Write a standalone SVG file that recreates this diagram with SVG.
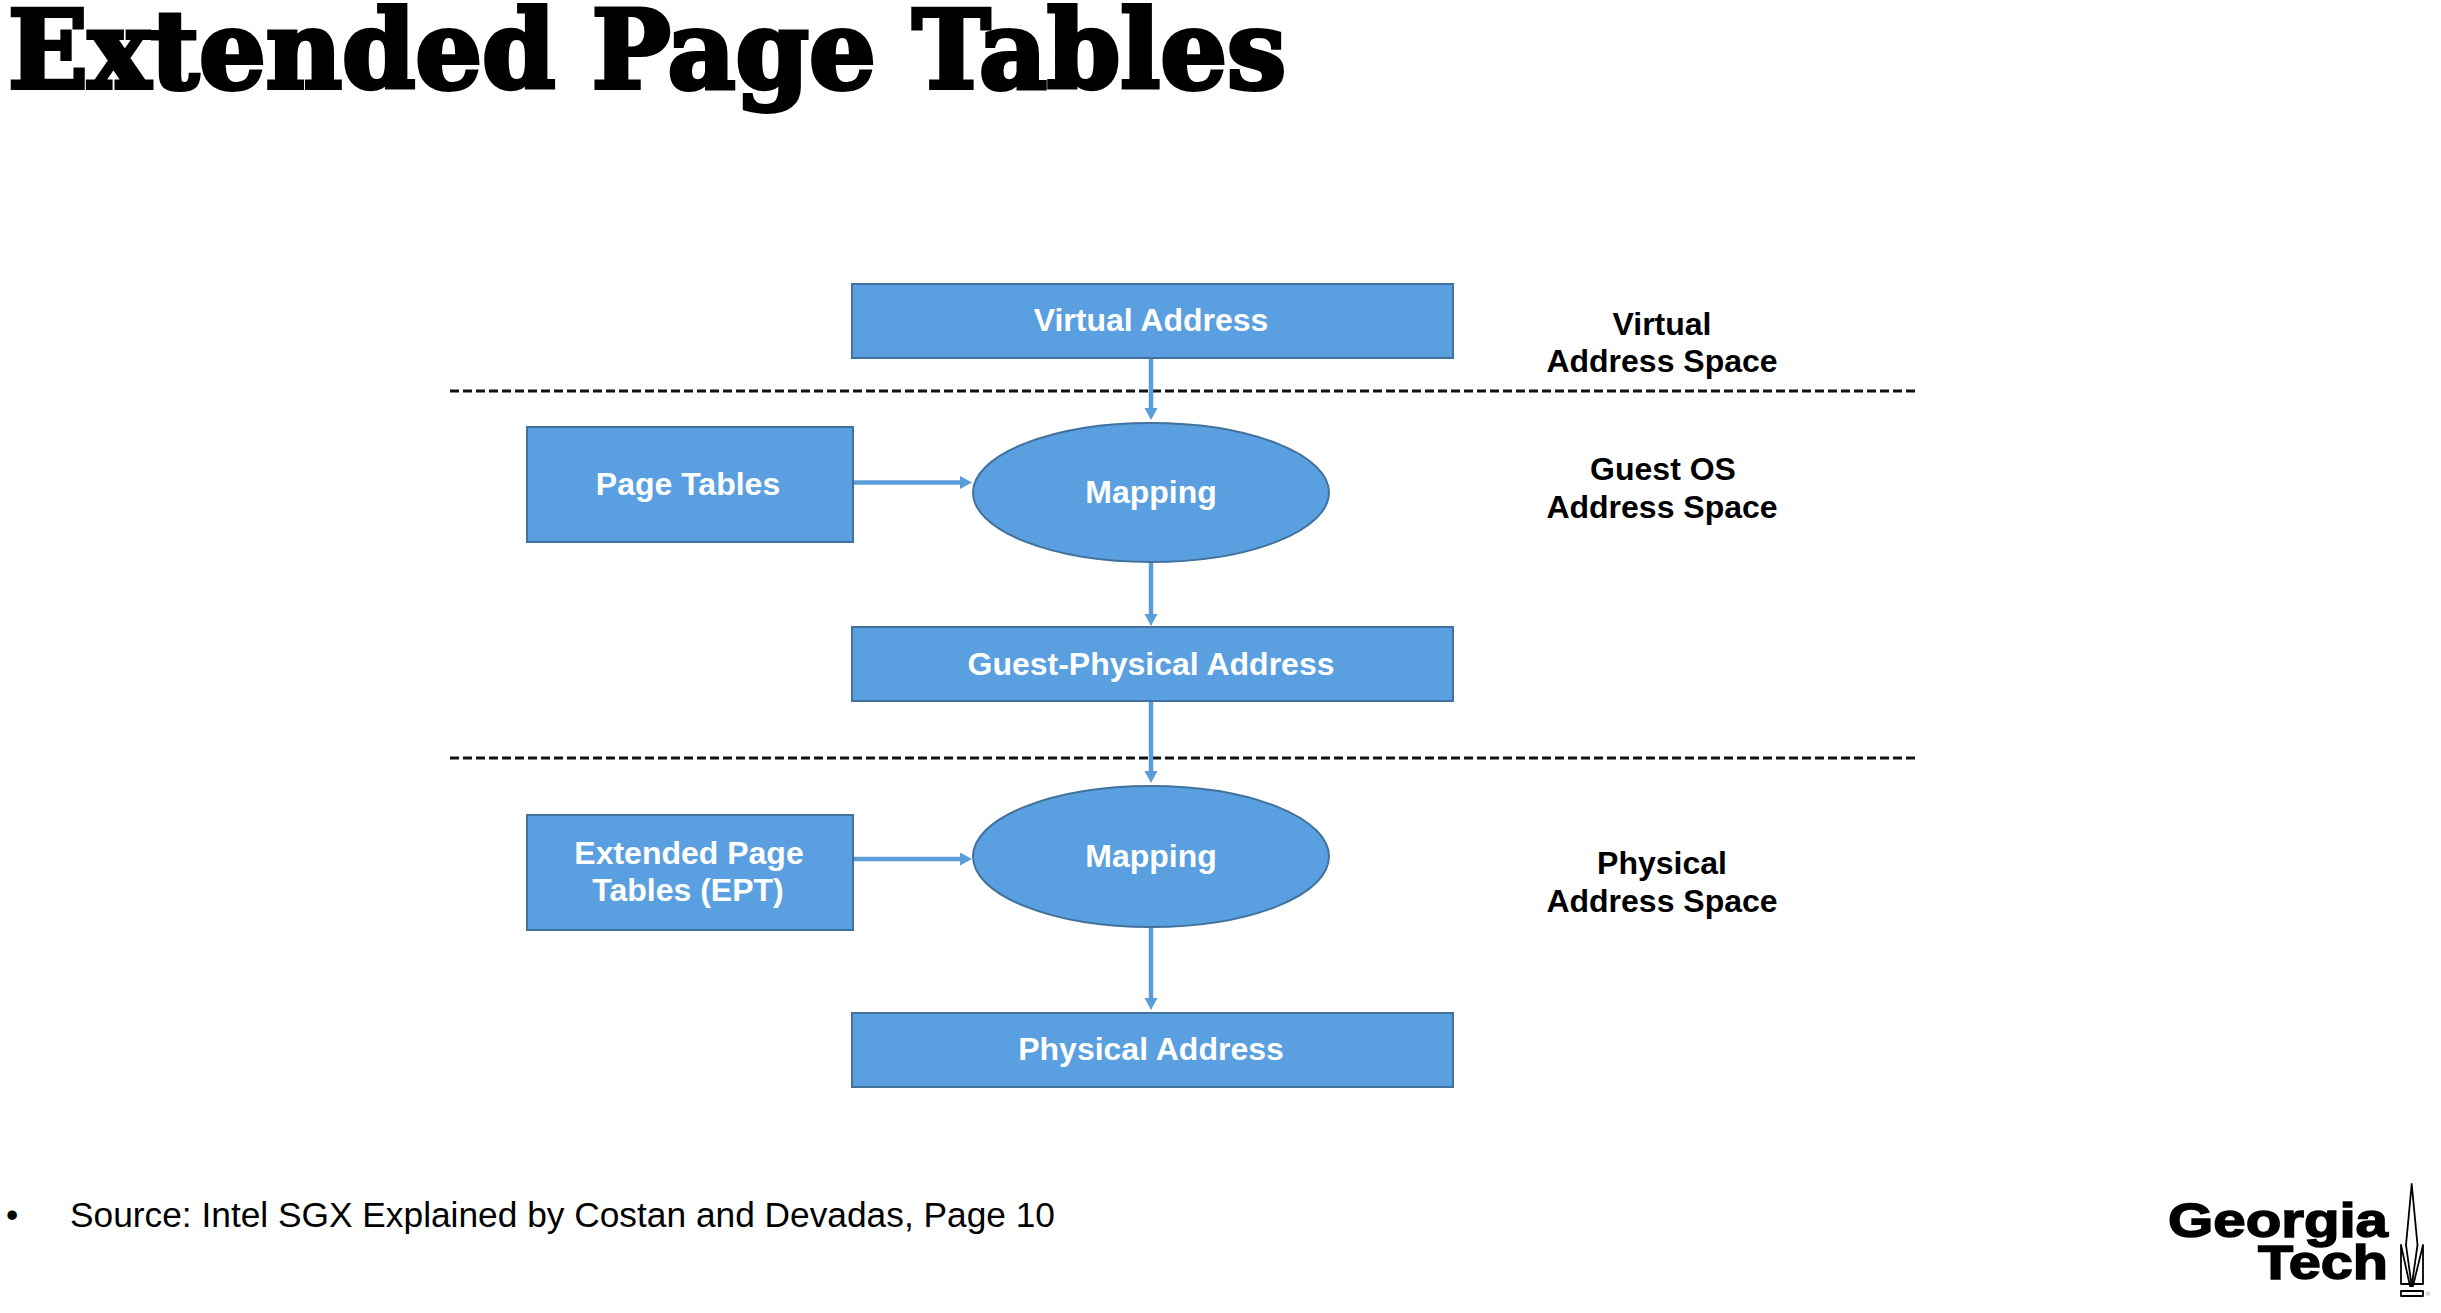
<svg xmlns="http://www.w3.org/2000/svg" width="2441" height="1313" viewBox="0 0 2441 1313">
<style>
text{font-family:"Liberation Sans",Arial,sans-serif}
.n{fill:#5a9fe0;stroke:#41719c;stroke-width:2}
.w{fill:#fff;font-weight:700;font-size:32px;text-anchor:middle}
.k{fill:#000;font-weight:700;font-size:32px;text-anchor:middle}
.c{stroke:#5a9dda;stroke-width:4.5;fill:none;marker-end:url(#a)}
.d{stroke:#111;stroke-width:3;stroke-dasharray:9 4;fill:none}
</style>
<defs><marker id="a" markerUnits="userSpaceOnUse" markerWidth="14" markerHeight="14" refX="4" refY="6.5" orient="auto"><path d="M0 0L12 6.5L0 13Z" fill="#5a9dda"/></marker></defs>
<rect width="2441" height="1313" fill="#fff"/>
<text id="title" x="8" y="88" textLength="1278" lengthAdjust="spacingAndGlyphs" style="font-family:'DejaVu Serif Condensed','DejaVu Serif',serif;font-weight:700;font-size:108px" stroke="#000" stroke-width="4">Extended Page Tables</text>
<g id="dividers"><path class="d" d="M450 391H1917"/><path class="d" d="M450 758H1917"/></g>
<g id="connectors">
<path class="c" d="M1151 358V412"/>
<path class="c" d="M853 482.5H964"/>
<path class="c" d="M1151 562V618"/>
<path class="c" d="M1151 701V775"/>
<path class="c" d="M853 859H964"/>
<path class="c" d="M1151 927V1002"/>
</g>
<g id="virtual-address"><rect class="n" x="852" y="284" width="601" height="74"/><text class="w" x="1151" y="331">Virtual Address</text></g>
<g id="page-tables"><rect class="n" x="527" y="427" width="326" height="115"/><text class="w" x="688" y="495">Page Tables</text></g>
<g id="mapping-1"><ellipse class="n" cx="1151" cy="492.5" rx="178" ry="69.5"/><text class="w" x="1151" y="503">Mapping</text></g>
<g id="guest-physical-address"><rect class="n" x="852" y="627" width="601" height="74"/><text class="w" x="1151" y="675">Guest-Physical Address</text></g>
<g id="ept"><rect class="n" x="527" y="815" width="326" height="115"/><text class="w" x="689" y="864">Extended Page</text><text class="w" x="688" y="901">Tables (EPT)</text></g>
<g id="mapping-2"><ellipse class="n" cx="1151" cy="856.5" rx="178" ry="70.5"/><text class="w" x="1151" y="867">Mapping</text></g>
<g id="physical-address"><rect class="n" x="852" y="1013" width="601" height="74"/><text class="w" x="1151" y="1060">Physical Address</text></g>
<g id="space-labels">
<text class="k" x="1662" y="335">Virtual</text><text class="k" x="1662" y="372">Address Space</text>
<text class="k" x="1663" y="480">Guest OS</text><text class="k" x="1662" y="518">Address Space</text>
<text class="k" x="1662" y="874">Physical</text><text class="k" x="1662" y="911.5">Address Space</text>
</g>
<g id="source"><text x="6" y="1227" font-size="35">•</text><text x="70" y="1227" font-size="35.3">Source: Intel SGX Explained by Costan and Devadas, Page 10</text></g>
<g id="logo">
<text x="2168" y="1237" font-weight="700" font-size="48" textLength="220" lengthAdjust="spacingAndGlyphs" stroke="#000" stroke-width="1.5">Georgia</text>
<text x="2258" y="1279" font-weight="700" font-size="48" textLength="130" lengthAdjust="spacingAndGlyphs" stroke="#000" stroke-width="1.5">Tech</text>
<path d="M2411.7 1184L2406 1245L2411.7 1286L2417.5 1245ZM2401 1245V1284H2423V1245L2413 1286H2410ZM2401 1291H2423V1296H2401Z" fill="none" stroke="#000" stroke-width="1.8" stroke-linejoin="round"/>
<text x="2426" y="1296" font-size="6" fill="#888">®</text>
</g>
</svg>
